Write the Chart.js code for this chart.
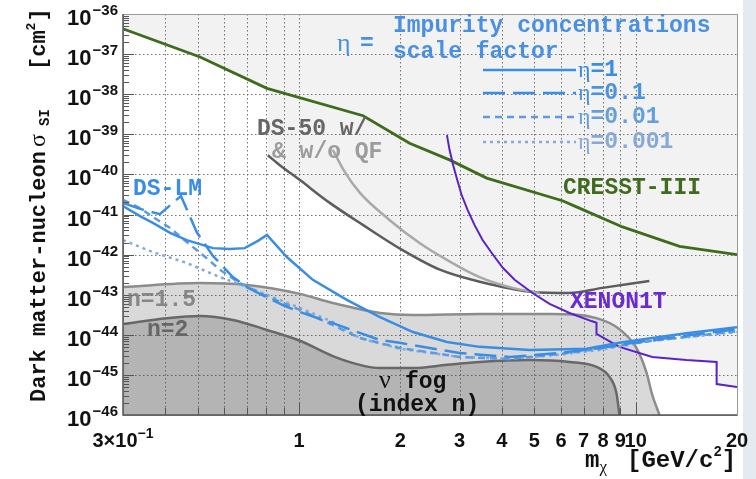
<!DOCTYPE html>
<html>
<head>
<meta charset="utf-8">
<script src="https://cdn.jsdelivr.net/npm/chart.js@4.4.1/dist/chart.umd.min.js"></script>
<style>
  html, body { margin: 0; padding: 0; background: #fff; }
  #wrap { position: relative; width: 756px; height: 479px; }
  #side { position: absolute; left: 743px; top: 0; width: 13px; height: 479px; background: #e5eaf0; }
  canvas { position: absolute; left: 0; top: 0; }
</style>
</head>
<body>
<div id="wrap"><div id="side"></div><canvas id="limits" width="756" height="479"></canvas></div>
<script>
// axes: WIMP mass [GeV/c^2] vs SI cross section [cm^2]
const massGrid = [0.3, 0.4, 0.5, 0.6, 0.7, 0.8, 0.9, 1, 2, 3, 4, 5, 6, 7, 8, 9, 10, 20];
const massLabels = [[0.3, '3×10', '−1'], [1, '1'], [2, '2'], [3, '3'], [4, '4'], [5, '5'],
  [6, '6'], [7, '7'], [8, '8'], [9, '9'], [10, '10'], [20, '20']];
const sigmaDecades = [-36, -37, -38, -39, -40, -41, -42, -43, -44, -45, -46];

// existing limits
const cresstMass = [0.3, 0.508, 0.803, 1.55, 2.13, 2.8, 3.61, 6.06, 6.67, 9.14, 13.5, 20];
const cresstSigma = [4.3e-37, 8.5e-38, 1.4e-38, 2.9e-39, 6.0e-40, 2.3e-40, 8.1e-41, 2.2e-41, 1.55e-41, 4.9e-42, 1.6e-42, 1.0e-42];

const ds50Mass = [0.808, 0.877, 1.006, 1.234, 1.547, 2.03, 2.62, 3.44, 4.94, 6.36, 7.97, 10.98];
const ds50Sigma = [3.0e-40, 1.7e-40, 7.2e-41, 1.95e-41, 5.5e-42, 1.29e-42, 4.2e-43, 2.1e-43, 1.17e-43, 1.1e-43, 1.48e-43, 2.2e-43];

const ds50NoQfMass = [1.26, 1.367, 1.515, 1.86, 2.28, 2.75, 3.44, 4.31, 5.18];
const ds50NoQfSigma = [4.1e-40, 1.15e-40, 3.5e-41, 7.2e-42, 1.95e-42, 7.4e-43, 2.75e-43, 1.48e-43, 1.1e-43];

const xenonMass = [2.75, 2.80, 2.86, 2.94, 3.04, 3.17, 3.32, 3.51, 3.76, 4.03, 4.37, 4.94, 5.55, 6.36, 7.39, 7.65, 7.65, 8.95, 11.2, 14.15, 17.4, 17.4, 20];
const xenonSigma = [9.5e-40, 4.1e-40, 1.9e-40, 8.1e-41, 3.1e-41, 1.29e-41, 5.5e-42, 2.3e-42, 1.02e-42, 4.7e-43, 2.35e-43, 1.1e-43, 5.9e-44, 3.5e-44, 2.2e-44, 2.0e-44, 1.05e-44, 5.0e-45, 2.8e-45, 2.35e-45, 2.1e-45, 5.9e-46, 5.0e-46];

// neutrino fog boundaries
const fog15Mass = [0.3, 0.508, 0.70, 1.006, 1.26, 1.74, 2.18, 3.44, 5.66, 7.65, 8.95, 10.05, 10.76, 11.2, 11.77];
const fog15Sigma = [1.55e-43, 1.95e-43, 1.74e-43, 1.05e-43, 6.2e-44, 3.5e-44, 3.1e-44, 3.3e-44, 3.3e-44, 2.6e-44, 1.38e-44, 4.7e-45, 1.17e-45, 3.2e-46, 1.0e-46];

const fog2Mass = [0.3, 0.405, 0.508, 0.636, 0.803, 1.006, 1.26, 1.515, 1.74, 2.18, 2.75, 3.44, 4.84, 6.36, 7.65, 8.36, 8.77, 8.95];
const fog2Sigma = [1.86e-44, 2.6e-44, 2.95e-44, 2.35e-44, 1.32e-44, 7.1e-45, 2.95e-45, 1.78e-45, 1.48e-45, 1.48e-45, 1.78e-45, 2.1e-45, 2.35e-45, 2.1e-45, 1.58e-45, 8.9e-46, 3.5e-46, 1.0e-46];

// DS-LM projections for each impurity scale factor
const etaLabels = ['1', '0.1', '0.01', '0.001'];

const mEta1 = [0.300, 0.337, 0.368, 0.414, 0.464, 0.555, 0.623, 0.690, 0.755, 0.803, 0.920, 1.099, 1.386, 1.74, 2.18, 2.75, 3.44, 4.84, 7.15, 8.95, 11.2, 14.15, 20];
const sEta1 = [1.62e-41, 9.1e-42, 6.2e-42, 3.5e-42, 2.3e-42, 1.45e-42, 1.38e-42, 1.45e-42, 2.2e-42, 3.1e-42, 8.7e-43, 2.35e-43, 7.4e-44, 2.75e-44, 1.17e-44, 6.6e-45, 5.0e-45, 4.2e-45, 4.5e-45, 6.3e-45, 8.3e-45, 1.1e-44, 1.55e-44];

const mEta0p1 = [0.300, 0.337, 0.386, 0.446, 0.497, 0.555, 0.636, 0.700, 0.765, 0.895, 1.006, 1.26, 1.74, 1.99, 3.0, 4.22, 5.94, 7.81, 11.2, 20];
const sEta0p1 = [1.95e-41, 1.38e-41, 1.02e-41, 2.9e-41, 3.6e-42, 9.3e-43, 2.75e-43, 1.55e-43, 1.05e-43, 5.5e-44, 3.7e-44, 1.95e-44, 7.4e-45, 6.3e-45, 3.5e-45, 2.8e-45, 3.5e-45, 4.7e-45, 7.4e-45, 1.38e-44];

const mEta0p01 = [0.300, 0.337, 0.368, 0.414, 0.464, 0.518, 0.582, 0.667, 0.765, 0.895, 1.006, 1.26, 1.515, 1.99, 3.0, 4.22, 5.94, 7.81, 11.2, 20];
const sEta0p01 = [2.3e-41, 1.45e-41, 8.7e-42, 4.6e-42, 2.05e-42, 9.8e-43, 4.2e-43, 1.95e-43, 1.1e-43, 6.2e-44, 4.2e-44, 1.74e-44, 8.3e-45, 4.7e-45, 2.8e-45, 2.5e-45, 3.3e-45, 4.5e-45, 7.1e-45, 1.23e-44];

const mEta0p001 = [0.300, 0.368, 0.464, 0.582, 0.729, 0.877, 1.006, 1.26, 1.515, 1.99, 3.0, 4.22, 5.94, 7.81, 11.2, 20];
const sEta0p001 = [2.3e-42, 1.15e-42, 6.2e-43, 2.75e-43, 1.38e-43, 7.4e-44, 4.7e-44, 2.1e-44, 8.3e-45, 4.5e-45, 2.8e-45, 2.5e-45, 3.2e-45, 4.2e-45, 7.1e-45, 1.17e-44];

const MONO = '"Liberation Mono", "DejaVu Sans Mono", monospace';
const SANS = '"Liberation Sans", Arial, sans-serif';
const SERIF = '"Liberation Serif", "DejaVu Serif", serif';

const BLUE = '#3a8de4';
const EXCLUDED = '#f2f2f2';

const pts = (xs, ys) => xs.map((m, i) => ({x: m, y: ys[i]}));

const curve = (xs, ys, color, width, extra) => Object.assign({
  data: pts(xs, ys),
  borderColor: color,
  borderWidth: width,
  fill: false,
  pointRadius: 0
}, extra || {});

const region = (xs, ys, color, side) => ({
  data: pts(xs, ys),
  borderWidth: 0,
  borderColor: 'rgba(0,0,0,0)',
  backgroundColor: color,
  fill: side,
  pointRadius: 0
});

// index 0 ends up on top, fills are all painted under the grid
const datasets = [
  curve(mEta1, sEta1, BLUE, 2.5),
  curve(mEta0p1, sEta0p1, BLUE, 2.5, {borderDash: [22, 8]}),
  curve(mEta0p01, sEta0p01, '#5c9be0', 2.5, {borderDash: [7, 5]}),
  curve(mEta0p001, sEta0p001, '#86a9d8', 2.5, {borderDash: [3, 4]}),
  curve(xenonMass, xenonSigma, '#5b22c8', 2),
  curve(ds50NoQfMass, ds50NoQfSigma, '#a9a9a9', 2.5, {cubicInterpolationMode: 'monotone'}),
  curve(ds50Mass, ds50Sigma, '#5c5c5c', 2.5, {cubicInterpolationMode: 'monotone'}),
  curve(cresstMass, cresstSigma, '#3f6b1d', 2.8),
  curve(fog2Mass, fog2Sigma, '#686868', 2.5, {fill: 'start', backgroundColor: '#b4b4b4', cubicInterpolationMode: 'monotone'}),
  curve(fog15Mass, fog15Sigma, '#8c8c8c', 2.5, {fill: 'start', backgroundColor: '#d9d9d9', cubicInterpolationMode: 'monotone'}),
  region(xenonMass, xenonSigma, EXCLUDED, 'end'),
  region(ds50Mass, ds50Sigma, EXCLUDED, 'end'),
  region(cresstMass, cresstSigma, EXCLUDED, 'end')
];

function text(ctx, str, x, y, font, color, align, base) {
  ctx.font = font;
  ctx.fillStyle = color;
  ctx.textAlign = align || 'left';
  ctx.textBaseline = base || 'middle';
  ctx.fillText(str, x, y);
  return ctx.measureText(str).width;
}

const decorations = {
  id: 'decorations',
  beforeDatasetsDraw(chart) {
    // dotted grid over the shaded regions, under the curves
    const {ctx, chartArea: a, scales: {x, y}} = chart;
    ctx.save();
    ctx.strokeStyle = 'rgba(70,70,70,0.75)';
    ctx.lineWidth = 1;
    ctx.setLineDash([1.5, 2.5]);
    ctx.beginPath();
    massGrid.slice(1, -1).forEach(m => {
      const px = Math.round(x.getPixelForValue(m)) + 0.5;
      ctx.moveTo(px, a.top); ctx.lineTo(px, a.bottom);
    });
    sigmaDecades.slice(1, -1).forEach(d => {
      const py = Math.round(y.getPixelForValue(Number('1e' + d))) + 0.5;
      ctx.moveTo(a.left, py); ctx.lineTo(a.right, py);
    });
    ctx.stroke();
    ctx.restore();
  },
  afterDatasetsDraw(chart) {
    const {ctx, chartArea: a, scales: {x, y}} = chart;
    ctx.save();
    ctx.setLineDash([]);

    // log tick marks inside the frame
    ctx.strokeStyle = '#555';
    ctx.lineWidth = 1;
    ctx.beginPath();
    sigmaDecades.forEach(d => {
      const py = Math.round(y.getPixelForValue(Number('1e' + d))) + 0.5;
      ctx.moveTo(a.left, py); ctx.lineTo(a.left + 11, py);
      if (d > -46) {
        for (let k = 2; k <= 9; k++) {
          const p = Math.round(y.getPixelForValue(k * Number('1e' + (d - 1)))) + 0.5;
          ctx.moveTo(a.left, p); ctx.lineTo(a.left + 6, p);
        }
      }
    });
    massGrid.forEach(m => {
      const px = Math.round(x.getPixelForValue(m)) + 0.5;
      const len = (m === 1 || m === 10) ? 12 : 7;
      ctx.moveTo(px, a.bottom); ctx.lineTo(px, a.bottom - len);
    });
    ctx.stroke();

    // frame
    ctx.lineWidth = 1;
    ctx.strokeStyle = '#9a9a9a';
    ctx.strokeRect(a.left + 0.5, a.top + 0.5, a.right - a.left, a.bottom - a.top);
    ctx.strokeStyle = '#555';
    ctx.lineWidth = 1.5;
    ctx.beginPath();
    ctx.moveTo(a.left, a.top); ctx.lineTo(a.left, a.bottom); ctx.lineTo(a.right, a.bottom);
    ctx.stroke();
    ctx.restore();
  },
  afterDraw(chart) {
    const {ctx, scales: {x, y}} = chart;
    const ds = chart.data.datasets;
    ctx.save();

    // y tick labels 10^n
    sigmaDecades.forEach(d => {
      const py = y.getPixelForValue(Number('1e' + d));
      ctx.font = 'bold 15px ' + SANS;
      const exp = '−' + Math.abs(d);
      const w = ctx.measureText(exp).width;
      text(ctx, exp, 118 - w, py + 1, 'bold 15px ' + SANS, '#111', 'left', 'alphabetic');
      text(ctx, '10', 117 - w, py + 11, 'bold 22px ' + SANS, '#111', 'right', 'alphabetic');
    });

    // x tick labels
    massLabels.forEach(([m, base, exp]) => {
      const px = x.getPixelForValue(m);
      if (exp) {
        ctx.font = 'bold 20px ' + SANS;
        const wb = ctx.measureText(base).width;
        ctx.font = 'bold 14px ' + SANS;
        const we = ctx.measureText(exp).width;
        const x0 = px - (wb + we) / 2;
        text(ctx, base, x0, 447, 'bold 20px ' + SANS, '#111', 'left', 'alphabetic');
        text(ctx, exp, x0 + wb, 438, 'bold 14px ' + SANS, '#111', 'left', 'alphabetic');
      } else {
        text(ctx, base, px, 447, 'bold 20px ' + SANS, '#111', 'center', 'alphabetic');
      }
    });

    // x title
    const TF = 'bold 24px ' + MONO;
    let cx = 585;
    cx += text(ctx, 'm', cx, 467, TF, '#111', 'left', 'alphabetic');
    text(ctx, 'χ', cx, 472, '17px ' + SERIF, '#111', 'left', 'alphabetic');
    cx = 627;
    cx += text(ctx, '[GeV/c', cx, 467, TF, '#111', 'left', 'alphabetic');
    cx += text(ctx, '2', cx, 456, 'bold 14px ' + MONO, '#111', 'left', 'alphabetic');
    text(ctx, ']', cx, 467, TF, '#111', 'left', 'alphabetic');

    // y title, reading upwards
    ctx.save();
    ctx.translate(45, 0);
    ctx.rotate(-Math.PI / 2);
    text(ctx, 'Dark matter-nucleon', -402, 0, 'bold 22px ' + MONO, '#111', 'left', 'alphabetic');
    text(ctx, 'σ', -147, 0, '24px ' + SERIF, '#111', 'left', 'alphabetic');
    text(ctx, 'SI', -126, 4, 'bold 14px ' + MONO, '#111', 'left', 'alphabetic');
    let ty = -70;
    ty += text(ctx, '[cm', ty, 0, 'bold 22px ' + MONO, '#111', 'left', 'alphabetic');
    ty += text(ctx, '2', ty, -10, 'bold 13px ' + MONO, '#111', 'left', 'alphabetic') + 1;
    text(ctx, ']', ty, 0, 'bold 22px ' + MONO, '#111', 'left', 'alphabetic');
    ctx.restore();

    // curve labels
    const F = 'bold 23px ' + MONO;
    text(ctx, 'DS-LM', 133, 189, F, BLUE);
    text(ctx, 'DS-50 w/', 257, 129, F, '#666');
    text(ctx, '& w/o QF', 272, 152, F, '#9c9c9c');
    text(ctx, 'CRESST-III', 563, 188, F, '#3f6b1e');
    text(ctx, 'XENON1T', 570, 302, F, '#6a2bd0');
    text(ctx, 'n=1.5', 127, 300, F, 'rgba(120,120,120,0.85)');
    text(ctx, 'n=2', 147, 330, F, '#666');
    text(ctx, 'ν', 379, 381, '26px ' + SERIF, '#111');
    text(ctx, 'fog', 405, 382, F, '#111');
    text(ctx, '(index n)', 355, 405, F, '#111');

    // legend
    text(ctx, 'η', 337, 44, '26px ' + SERIF, '#4a90e2');
    text(ctx, '=', 360, 44, F, '#4a90e2');
    text(ctx, 'Impurity concentrations', 393, 26, F, '#4a90e2');
    text(ctx, 'scale factor', 393, 52, F, '#4a90e2');
    const rowY = [70, 93, 117, 142];
    const rowColor = ['#3a8de4', '#4a92e2', '#64a0e0', '#86a9d8'];
    etaLabels.forEach((lab, i) => {
      const d = ds[i];
      ctx.save();
      ctx.strokeStyle = d.borderColor;
      ctx.lineWidth = d.borderWidth;
      ctx.setLineDash(d.borderDash || []);
      ctx.beginPath();
      ctx.moveTo(483, rowY[i]); ctx.lineTo(576, rowY[i]);
      ctx.stroke();
      ctx.restore();
      const w = text(ctx, 'η', 578, rowY[i] + 1, '24px ' + SERIF, rowColor[i]);
      text(ctx, '=' + lab, 578 + w, rowY[i], F, rowColor[i]);
    });
    ctx.restore();
  }
};

new Chart(document.getElementById('limits'), {
  type: 'line',
  data: {datasets: datasets},
  options: {
    responsive: false,
    animation: false,
    devicePixelRatio: 1,
    layout: {padding: {left: 123, top: 14, right: 19, bottom: 64}},
    plugins: {
      legend: {display: false},
      tooltip: {enabled: false},
      filler: {drawTime: 'beforeDraw'}
    },
    scales: {
      x: {
        type: 'logarithmic',
        min: 0.3,
        max: 20,
        afterBuildTicks: s => { s.ticks = massGrid.map(v => ({value: v})); },
        afterFit: s => { s.height = 0; },
        ticks: {display: false},
        grid: {display: false},
        border: {display: false}
      },
      y: {
        type: 'logarithmic',
        min: 1e-46,
        max: 1e-36,
        afterBuildTicks: s => { s.ticks = sigmaDecades.map(d => ({value: Number('1e' + d)})); },
        afterFit: s => { s.width = 0; },
        ticks: {display: false},
        grid: {display: false},
        border: {display: false}
      }
    }
  },
  plugins: [decorations]
});
</script>
</body>
</html>
